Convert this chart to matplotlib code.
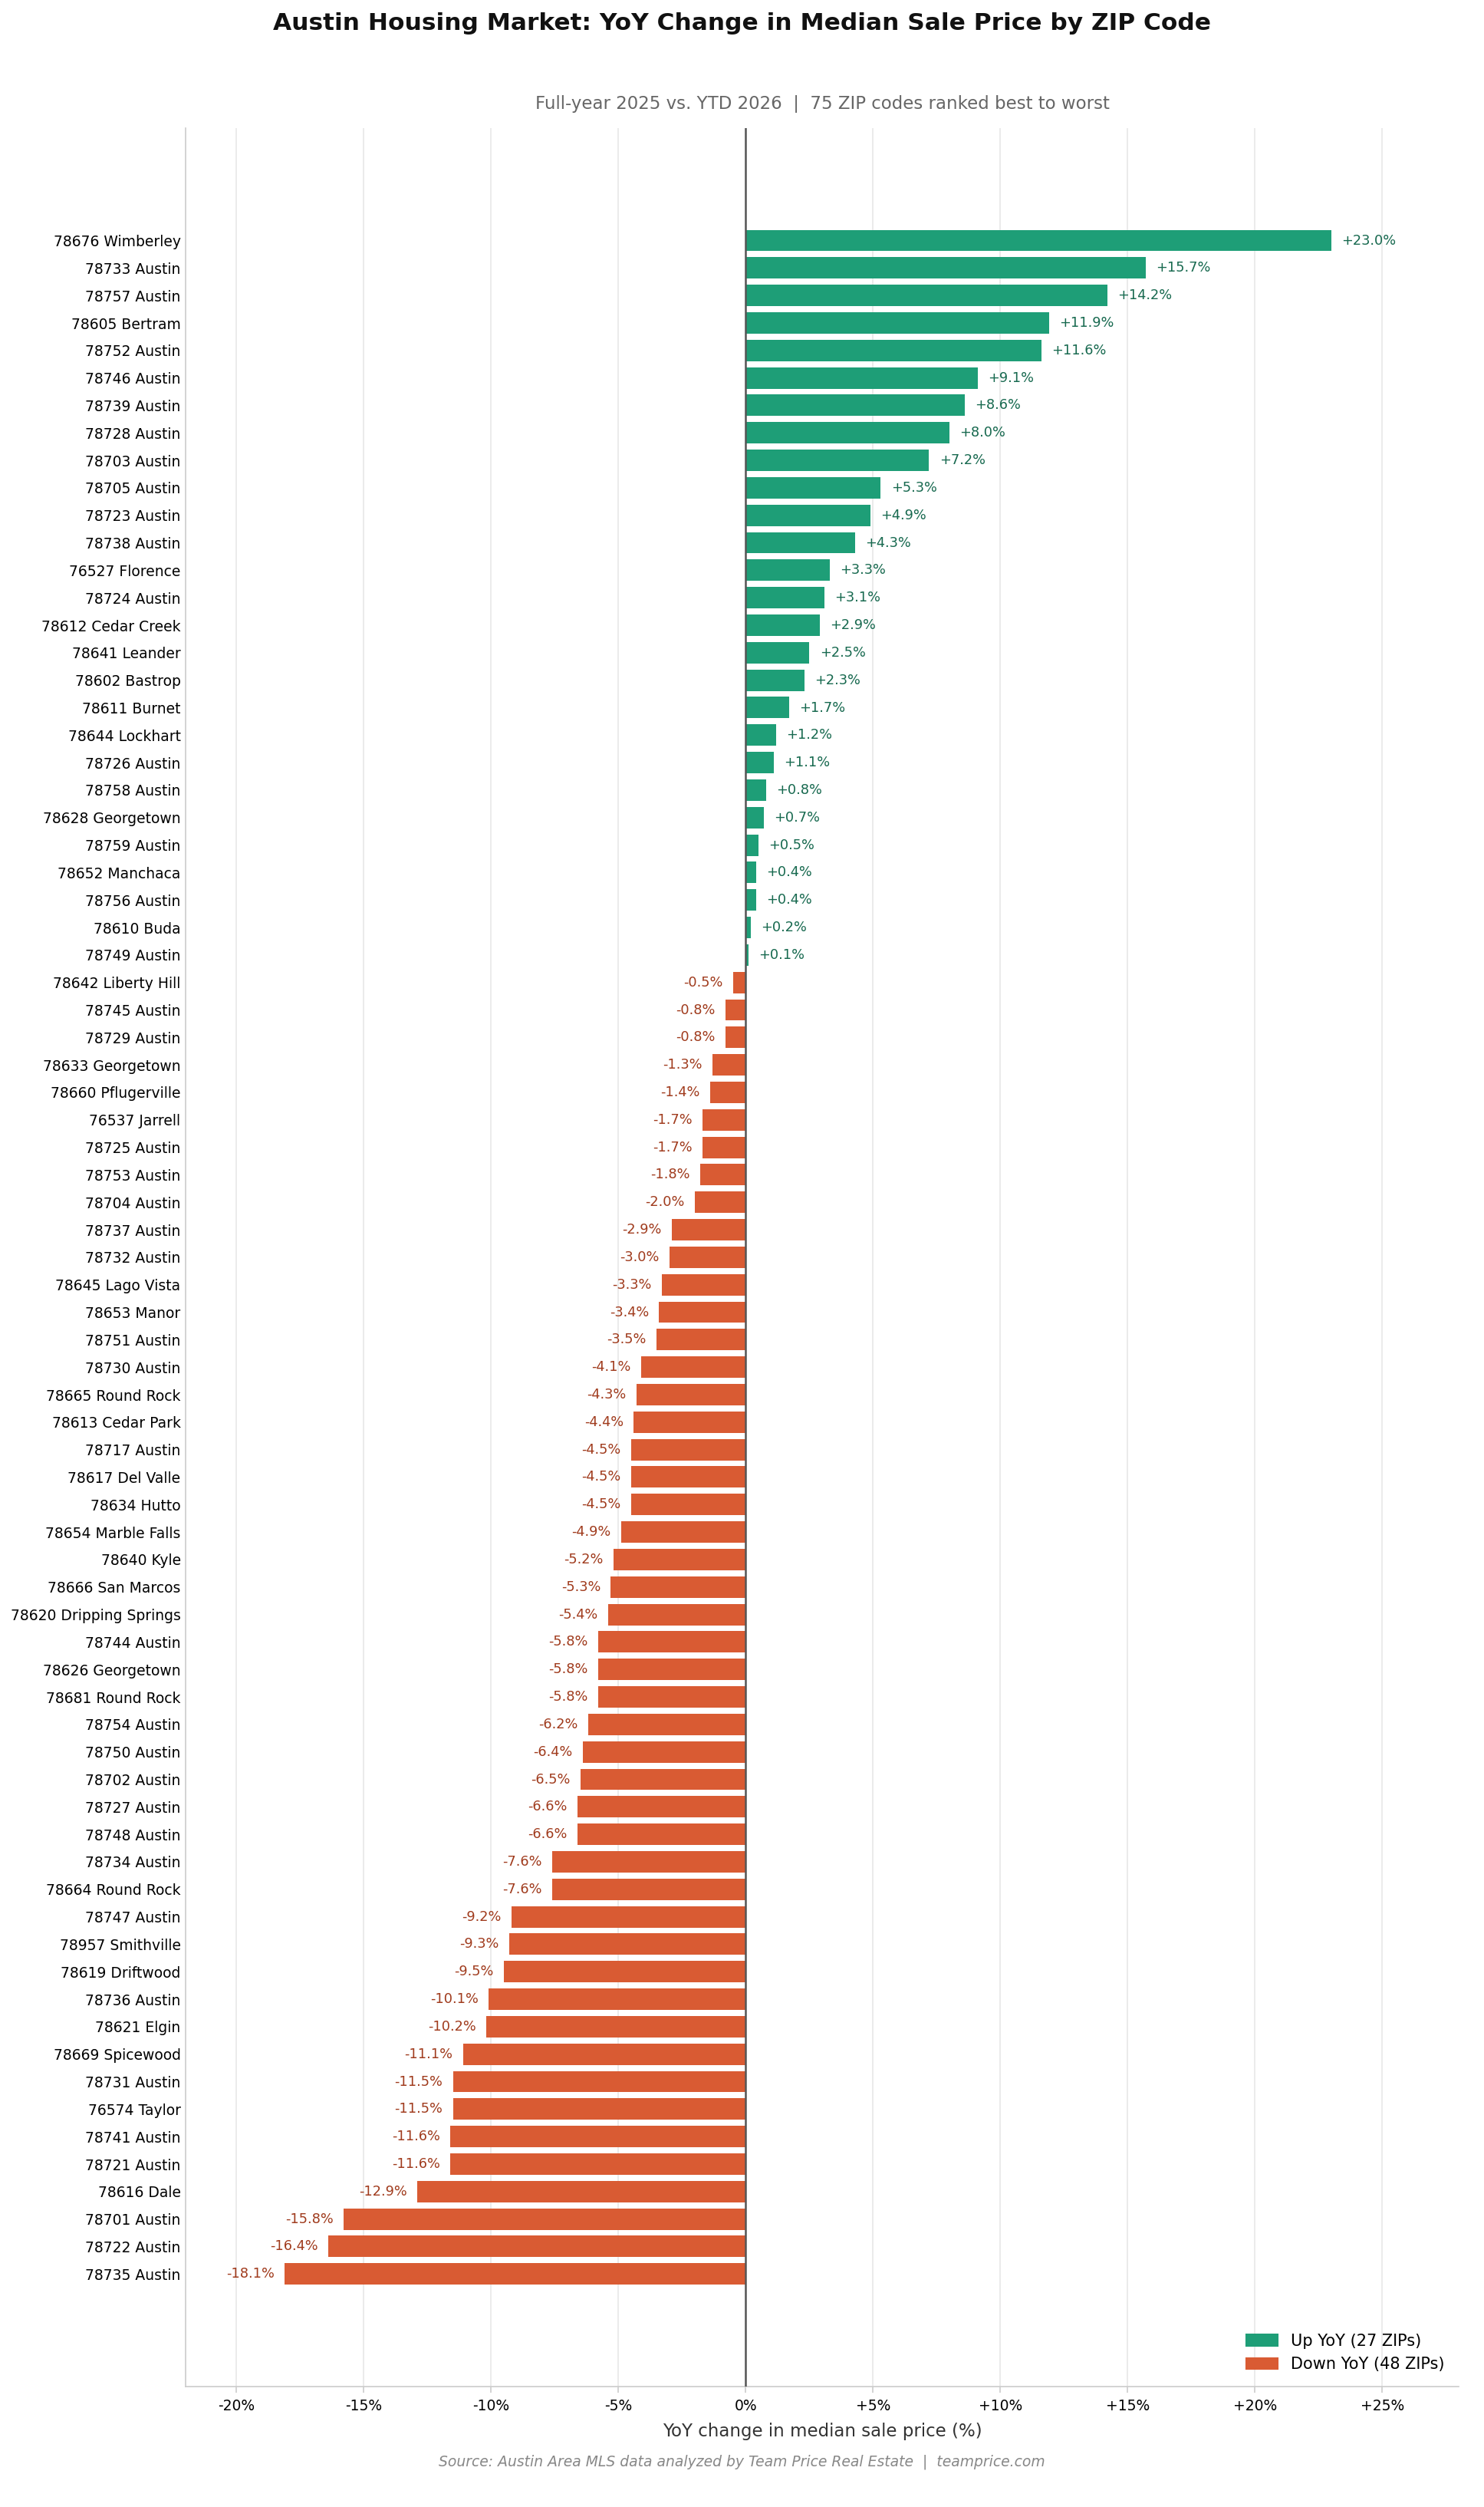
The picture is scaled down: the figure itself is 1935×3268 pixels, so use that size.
import matplotlib.pyplot as plt
from matplotlib.patches import Patch

# ZIP codes, ranked best to worst
zips = [
    "78676 Wimberley", "78733 Austin", "78757 Austin", "78605 Bertram", "78752 Austin",
    "78746 Austin", "78739 Austin", "78728 Austin", "78703 Austin", "78705 Austin",
    "78723 Austin", "78738 Austin", "76527 Florence", "78724 Austin", "78612 Cedar Creek",
    "78641 Leander", "78602 Bastrop", "78611 Burnet", "78644 Lockhart", "78726 Austin",
    "78758 Austin", "78628 Georgetown", "78759 Austin", "78652 Manchaca", "78756 Austin",
    "78610 Buda", "78749 Austin", "78642 Liberty Hill", "78745 Austin", "78729 Austin",
    "78633 Georgetown", "78660 Pflugerville", "76537 Jarrell", "78725 Austin", "78753 Austin",
    "78704 Austin", "78737 Austin", "78732 Austin", "78645 Lago Vista", "78653 Manor",
    "78751 Austin", "78730 Austin", "78665 Round Rock", "78613 Cedar Park", "78717 Austin",
    "78617 Del Valle", "78634 Hutto", "78654 Marble Falls", "78640 Kyle", "78666 San Marcos",
    "78620 Dripping Springs", "78744 Austin", "78626 Georgetown", "78681 Round Rock", "78754 Austin",
    "78750 Austin", "78702 Austin", "78727 Austin", "78748 Austin", "78734 Austin",
    "78664 Round Rock", "78747 Austin", "78957 Smithville", "78619 Driftwood", "78736 Austin",
    "78621 Elgin", "78669 Spicewood", "78731 Austin", "76574 Taylor", "78741 Austin",
    "78721 Austin", "78616 Dale", "78701 Austin", "78722 Austin", "78735 Austin",
]

# YoY change in median sale price (%)
yoy = [
    23.0, 15.7, 14.2, 11.9, 11.6,
    9.1, 8.6, 8.0, 7.2, 5.3,
    4.9, 4.3, 3.3, 3.1, 2.9,
    2.5, 2.3, 1.7, 1.2, 1.1,
    0.8, 0.7, 0.5, 0.4, 0.4,
    0.2, 0.1, -0.5, -0.8, -0.8,
    -1.3, -1.4, -1.7, -1.7, -1.8,
    -2.0, -2.9, -3.0, -3.3, -3.4,
    -3.5, -4.1, -4.3, -4.4, -4.5,
    -4.5, -4.5, -4.9, -5.2, -5.3,
    -5.4, -5.8, -5.8, -5.8, -6.2,
    -6.4, -6.5, -6.6, -6.6, -7.6,
    -7.6, -9.2, -9.3, -9.5, -10.1,
    -10.2, -11.1, -11.5, -11.5, -11.6,
    -11.6, -12.9, -15.8, -16.4, -18.1,
]

xticks = [-20, -15, -10, -5, 0, 5, 10, 15, 20, 25]

GREEN = "#1e9e77"
ORANGE = "#d95b33"
GREEN_TXT = "#17694f"
ORANGE_TXT = "#a03b1d"

plt.rcParams['font.family'] = ['DejaVu Sans']

fig = plt.figure(figsize=(12.9, 21.787), dpi=150)
ax = fig.add_axes([0.125, 0.048, 0.858, 0.901])

pos = list(range(len(zips)))
colors = [GREEN if v > 0 else ORANGE for v in yoy]
ax.barh(pos, yoy, height=0.78, color=colors, zorder=2)

for i, v in enumerate(yoy):
    if v > 0:
        ax.text(v + 0.4, i, f"+{v:.1f}%", va='center', ha='left',
                fontsize=8.5, color=GREEN_TXT)
    else:
        ax.text(v - 0.4, i, f"{v:.1f}%", va='center', ha='right',
                fontsize=8.5, color=ORANGE_TXT)

ax.axvline(0, color='#555555', linewidth=1.2, zorder=3)

ax.set_yticks(pos)
ax.set_yticklabels(zips, fontsize=9)
ax.set_ylim(len(zips) - 1 + 4.1, -4.1)
ax.set_xlim(-22, 28)
ax.set_xticks(xticks)
ax.set_xticklabels([("+" if t > 0 else "") + f"{t}%" for t in xticks], fontsize=9)
ax.tick_params(axis='y', length=0, pad=3)
ax.tick_params(axis='x', length=4, color='#cccccc')

ax.grid(axis='x', color='#e8e8e8', linewidth=0.8, zorder=0)
ax.set_axisbelow(True)
for s in ['top', 'right']:
    ax.spines[s].set_visible(False)
for s in ['left', 'bottom']:
    ax.spines[s].set_color('#cccccc')

ax.set_xlabel("YoY change in median sale price (%)", fontsize=11, color='#333333', labelpad=6)

n_up = sum(1 for v in yoy if v > 0)
n_down = len(yoy) - n_up
handles = [Patch(color=GREEN, label=f"Up YoY ({n_up} ZIPs)"),
           Patch(color=ORANGE, label=f"Down YoY ({n_down} ZIPs)")]
ax.legend(handles=handles, loc='lower right', fontsize=10, frameon=False)

fig.suptitle("Austin Housing Market: YoY Change in Median Sale Price by ZIP Code",
             fontsize=15, fontweight='bold', color='#111111', y=0.995)
ax.set_title("Full-year 2025 vs. YTD 2026  |  75 ZIP codes ranked best to worst",
             fontsize=11, color='#666666', pad=12)
fig.text(0.5, 0.0165, "Source: Austin Area MLS data analyzed by Team Price Real Estate  |  teamprice.com",
         ha='center', fontsize=9, style='italic', color='#888888')

fig.savefig("out.png", dpi=150)
